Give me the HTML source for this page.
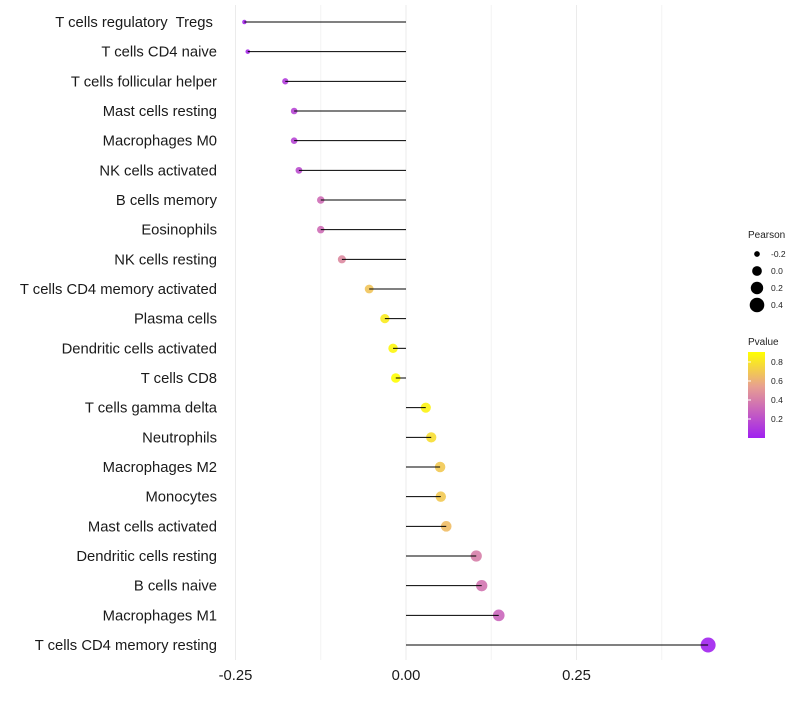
<!DOCTYPE html>
<html><head><meta charset="utf-8"><style>
body{margin:0;background:#fff;font-family:"Liberation Sans",sans-serif}
text{white-space:pre}
</style></head><body>
<svg id="c" width="800" height="700" xmlns="http://www.w3.org/2000/svg">
<defs><linearGradient id="pg" x1="0" y1="1" x2="0" y2="0">
<stop offset="0" stop-color="#a020f0"/><stop offset="0.35" stop-color="#cc6ab8"/><stop offset="0.6" stop-color="#e8a090"/><stop offset="1" stop-color="#ffff00"/></linearGradient></defs>
</svg>
<script>
const cells=["T cells regulatory  Tregs ","T cells CD4 naive","T cells follicular helper","Mast cells resting","Macrophages M0","NK cells activated","B cells memory","Eosinophils","NK cells resting","T cells CD4 memory activated","Plasma cells","Dendritic cells activated","T cells CD8","T cells gamma delta","Neutrophils","Macrophages M2","Monocytes","Mast cells activated","Dendritic cells resting","B cells naive","Macrophages M1","T cells CD4 memory resting"];
const pearson=[-0.237,-0.232,-0.177,-0.164,-0.164,-0.157,-0.125,-0.125,-0.094,-0.054,-0.031,-0.019,-0.015,0.029,0.037,0.050,0.051,0.059,0.103,0.111,0.136,0.443];
const pvalue=[0.03,0.04,0.12,0.16,0.16,0.19,0.33,0.33,0.45,0.68,0.83,0.87,0.9,0.86,0.78,0.7,0.7,0.65,0.4,0.36,0.3,0.01];
const xTicks=[-0.25,0,0.25];
const xTickLabels=["-0.25","0.00","0.25"];
const legSizes=[-0.2,0,0.2,0.4];
const legP=[0.2,0.4,0.6,0.8];
const svg=document.getElementById('c');const NS="http://www.w3.org/2000/svg";
const x=v=>406+v*682; const y=i=>22+i*(623/21);
const r=v=>Math.sqrt(68*Math.max(0.005,v+0.28))+0.5;
function mix(a,b,t){return a.map((c,i)=>Math.round(c+(b[i]-c)*t));}
const stops=[[0,[160,32,240]],[0.35,[204,106,184]],[0.6,[232,160,144]],[1,[255,255,0]]];
function col(p){let t=Math.min(1,Math.max(0,p/0.905));for(let i=1;i<stops.length;i++){if(t<=stops[i][0]){const a=stops[i-1],b=stops[i];const c=mix(a[1],b[1],(t-a[0])/(b[0]-a[0]));return `rgb(${c})`;}}return 'rgb(255,255,0)';}
function el(t,a,txt){const e=document.createElementNS(NS,t);for(const k in a)e.setAttribute(k,a[k]);if(txt!=null)e.textContent=txt;svg.appendChild(e);return e;}
[-0.125,0.125,0.375].forEach(v=>{const g=el('line',{x1:x(v),x2:x(v),y1:5,y2:660,stroke:'#f3f3f3','stroke-width':1});

});
xTicks.forEach((v,i)=>{const g=el('line',{x1:x(v),x2:x(v),y1:5,y2:660,stroke:'#ebebeb','stroke-width':1});


const t=el('text',{x:x(v),y:680,'text-anchor':'middle','font-size':14.8,fill:'#1a1a1a'},xTickLabels[i]);

});
cells.forEach((c,i)=>{const t=el('text',{x:217,y:y(i)+5,'text-anchor':'end','font-size':14.8,fill:'#1a1a1a'},c);


const p=el('circle',{cx:x(pearson[i]),cy:y(i),r:r(pearson[i]),fill:col(pvalue[i]),'fill-opacity':0.9});


const l=el('line',{x1:x(0),x2:x(pearson[i]),y1:y(i),y2:y(i),stroke:'#000','stroke-width':1});

});
const lt=el('text',{x:748,y:238,'font-size':10,fill:'#222'},'Pearson');


legSizes.forEach((v,i)=>{const cy=254+i*17;const c=el('circle',{cx:757,cy:cy,r:r(v),fill:'#000'});


const t=el('text',{x:771,y:cy+3,'font-size':8.5,fill:'#222'},v.toFixed(1));

});
const pt=el('text',{x:748,y:345,'font-size':10,fill:'#222'},'Pvalue');


const bar=el('rect',{x:748,y:352,width:17,height:86,fill:'url(#pg)'});


legP.forEach(v=>{const yy=438-v/0.905*86;const t=el('text',{x:771,y:yy+3,'font-size':8.5,fill:'#222'},v.toFixed(1));


const tk=el('line',{x1:748,x2:751,y1:yy,y2:yy,stroke:'#fff'});

});
</script>
</body></html>
